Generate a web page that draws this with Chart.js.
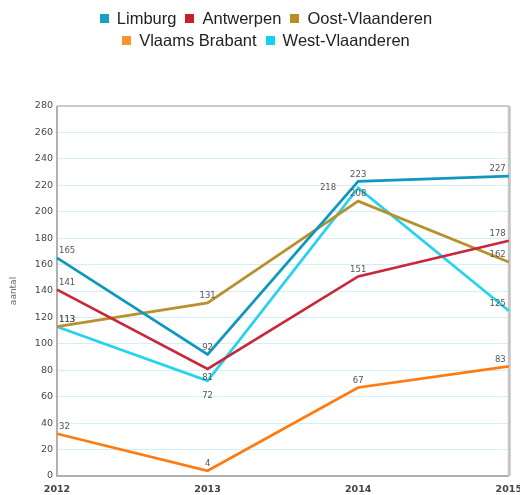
<!DOCTYPE html>
<html>
<head>
<meta charset="utf-8">
<script src="https://cdn.jsdelivr.net/npm/chart.js@4.4.1/dist/chart.umd.min.js"></script>
<style>
  html, body { margin: 0; padding: 0; background: #fff; width: 520px; height: 495px; overflow: hidden; }
  #chartBox { position: absolute; left: 0; top: 0; }
  #legend {
    position: absolute; top: 7px; left: 0; width: 520px; padding-left: 12px;
    box-sizing: border-box; display: flex; justify-content: center;
  }
  #legend .rows { width: 400px; display: flex; flex-wrap: wrap; justify-content: center; }
  #legend .item {
    display: flex; align-items: center; height: 22px; margin: 0 4.5px;
    font: 16.5px "Liberation Sans", Arial, sans-serif; color: #222;
  }
  #legend .swatch { width: 9px; height: 9px; margin-right: 8px; }
</style>
</head>
<body>
<div id="chartBox"><canvas id="regioChart" width="530" height="495"></canvas></div>
<div id="legend"><div class="rows"></div></div>

<script>
// jaren en provincies
const years = ["2012", "2013", "2014", "2015"];
const provinces = ["Limburg", "Antwerpen", "Oost-Vlaanderen", "Vlaams Brabant", "West-Vlaanderen"];

const limburg = [165, 92, 223, 227];
const antwerpen = [141, 81, 151, 178];
const oostVlaanderen = [113, 131, 208, 162];
const vlaamsBrabant = [32, 4, 67, 83];
const westVlaanderen = [113, 72, 218, 125];

const yTicks = { min: 0, max: 280, step: 20 };

const lineColors = ["#0f98bf", "#c8283a", "#b8912c", "#ff7a10", "#25d3ef"];
const swatchColors = ["#16a0c8", "#c4202e", "#b98d25", "#f7942e", "#12d2ee"];
const series = [limburg, antwerpen, oostVlaanderen, vlaamsBrabant, westVlaanderen];

// legend in html, 3 + 2 per rij
const rows = document.querySelector("#legend .rows");
provinces.forEach((name, i) => {
  const item = document.createElement("div");
  item.className = "item";
  item.innerHTML = '<span class="swatch" style="background:' + swatchColors[i] + '"></span>' + name;
  rows.appendChild(item);
});

// waar labels anders staan dan "boven het punt"
const labelNudge = {
  "1:1": { dx: 0, dy: 9, align: "center" },
  "4:1": { dx: 0, dy: 15, align: "center" },
  "4:2": { dx: -22, dy: 0, align: "right" }
};

const frame = {
  id: "frame",
  beforeDatasetsDraw(chart) {
    const { ctx, chartArea: a } = chart;
    ctx.save();
    ctx.strokeStyle = "#c6c6c6";
    ctx.lineWidth = 3;
    ctx.beginPath();
    ctx.moveTo(a.right + 0.5, a.top);
    ctx.lineTo(a.right + 0.5, a.bottom);
    ctx.stroke();
    ctx.strokeStyle = "#bcbcbc";
    ctx.lineWidth = 1.5;
    ctx.beginPath();
    ctx.moveTo(a.left, a.top);
    ctx.lineTo(a.right, a.top);
    ctx.stroke();
    ctx.strokeStyle = "#b0b0b0";
    ctx.lineWidth = 2;
    ctx.beginPath();
    ctx.moveTo(a.left, a.top);
    ctx.lineTo(a.left, a.bottom);
    ctx.lineTo(a.right, a.bottom);
    ctx.stroke();
    ctx.restore();
  }
};

const valueLabels = {
  id: "valueLabels",
  afterDatasetsDraw(chart) {
    const ctx = chart.ctx;
    ctx.save();
    ctx.font = "8.5px 'DejaVu Sans'";
    ctx.fillStyle = "#555";
    ctx.textBaseline = "middle";
    chart.data.datasets.forEach((ds, di) => {
      const meta = chart.getDatasetMeta(di);
      meta.data.forEach((pt, i) => {
        let x = pt.x, y = pt.y - 7, align = "center";
        if (i === 0) { align = "left"; x += 2; }
        if (i === ds.data.length - 1) { align = "right"; x -= 3; }
        const n = labelNudge[di + ":" + i];
        if (n) { x = pt.x + n.dx; y = pt.y + n.dy; align = n.align; }
        ctx.textAlign = align;
        ctx.fillText(String(ds.data[i]), x, y);
      });
    });
    ctx.restore();
  }
};

new Chart(document.getElementById("regioChart"), {
  type: "line",
  data: {
    labels: years,
    datasets: provinces.map((name, i) => ({
      label: name,
      data: series[i],
      borderColor: lineColors[i],
      backgroundColor: lineColors[i],
      borderWidth: 2.7,
      pointRadius: 0,
      tension: 0,
      fill: false
    }))
  },
  options: {
    responsive: false,
    animation: false,
    layout: { padding: { top: 106, right: 19, left: 0, bottom: 0 } },
    plugins: {
      legend: { display: false },
      tooltip: { enabled: false }
    },
    scales: {
      x: {
        offset: false,
        grid: { display: false, drawTicks: false },
        border: { display: false },
        ticks: {
          padding: 8,
          color: "#444",
          font: { family: "DejaVu Sans", size: 9.5, weight: "bold" },
          maxRotation: 0
        },
        afterFit: (s) => { s.height = 19; }
      },
      y: {
        min: yTicks.min,
        max: yTicks.max,
        grid: { color: "#d2eef8", lineWidth: 1, drawTicks: false },
        border: { display: false },
        ticks: {
          stepSize: yTicks.step,
          padding: 4,
          color: "#474747",
          font: { family: "DejaVu Sans", size: 9.5 }
        },
        title: {
          display: true,
          text: "aantal",
          color: "#666",
          font: { family: "DejaVu Sans", size: 9 },
          padding: { top: 8, bottom: 0 }
        },
        afterFit: (s) => { s.width = 57; }
      }
    }
  },
  plugins: [frame, valueLabels]
});
</script>
</body>
</html>
